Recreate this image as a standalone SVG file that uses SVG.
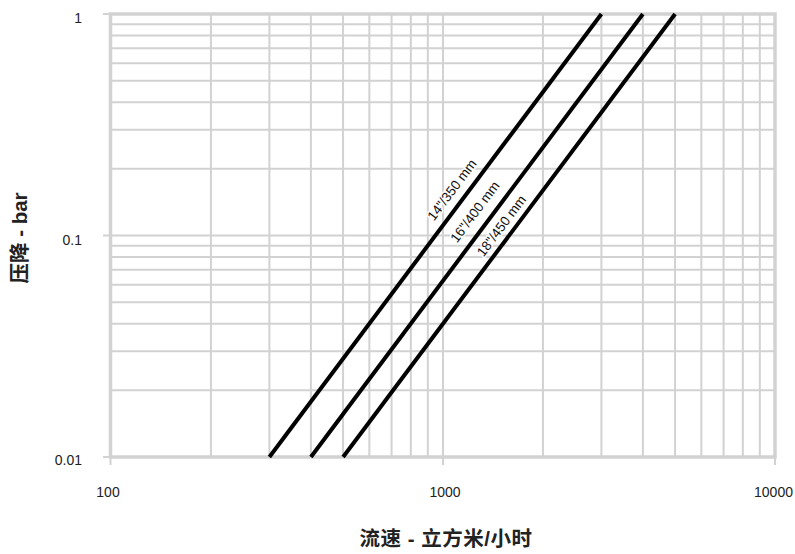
<svg xmlns="http://www.w3.org/2000/svg" width="795" height="554" viewBox="0 0 795 554">
<style>
.grid{stroke:#d2d2d2;stroke-width:2;fill:none}
.axis{stroke:#d2d2d2;stroke-width:3.5;fill:none}
.tick{stroke:#d2d2d2;stroke-width:2;fill:none}
.curve{stroke:#000;stroke-width:4;fill:none}
.tl{font-family:"Liberation Sans",Arial,sans-serif;font-size:14px;fill:#222}
.cl{font-family:"Liberation Sans",Arial,sans-serif;font-size:13.5px;fill:#111;stroke:#fff;stroke-width:3;paint-order:stroke;stroke-linejoin:round}
.title{font-family:"Liberation Sans","Noto Sans CJK SC",sans-serif;font-size:20.5px;font-weight:bold;fill:#222}
</style>
<rect width="795" height="554" fill="#fff"/>
<g id="grid">
<path class="grid" d="M210.94 14V457M269.4 14V457M310.88 14V457M343.06 14V457M369.35 14V457M391.57 14V457M410.83 14V457M427.81 14V457M443 14V457M542.94 14V457M601.4 14V457M642.88 14V457M675.06 14V457M701.35 14V457M723.57 14V457M742.83 14V457M759.81 14V457"/>
<path class="grid" d="M111 24.14H775M111 35.47H775M111 48.31H775M111 63.14H775M111 80.68H775M111 102.14H775M111 129.82H775M111 168.82H775M111 235.5H775M111 245.64H775M111 256.97H775M111 269.81H775M111 284.64H775M111 302.18H775M111 323.64H775M111 351.32H775M111 390.32H775"/>
</g>
<g id="axes">
<path class="axis" d="M110.5 14H775V457H110.5Z"/>
<path class="tick" d="M103 14H111M103 235.5H111M103 457H111M110.5 457V465M443 457V465M775 457V465"/>
</g>
<g id="tick-labels">
<text class="tl" x="82" y="23" text-anchor="end">1</text>
<text class="tl" x="82" y="245" text-anchor="end">0.1</text>
<text class="tl" x="82" y="465" text-anchor="end">0.01</text>
<text class="tl" x="108" y="497" text-anchor="middle">100</text>
<text class="tl" x="445" y="497" text-anchor="middle">1000</text>
<text class="tl" x="773.5" y="497" text-anchor="middle">10000</text>
</g>
<g id="connectors">
<line id="c14" class="curve" x1="269.4" y1="457" x2="601.4" y2="14"/>
<line id="c16" class="curve" x1="310.9" y1="457" x2="642.9" y2="14"/>
<line id="c18" class="curve" x1="343.1" y1="457" x2="675.1" y2="14"/>
</g>
<g id="label-14">
<text class="cl" transform="translate(452 190) rotate(-53.1)" x="0" y="4.5" text-anchor="middle">14"/350 mm</text>
</g>
<g id="label-16">
<text class="cl" transform="translate(475 212) rotate(-53.1)" x="0" y="4.5" text-anchor="middle">16"/400 mm</text>
</g>
<g id="label-18">
<text class="cl" transform="translate(501.5 226) rotate(-53.1)" x="0" y="4.5" text-anchor="middle">18"/450 mm</text>
</g>
<g id="titles">
<text class="title" x="446" y="546" text-anchor="middle" letter-spacing="0.5">流速 - 立方米/小时</text>
<text class="title" transform="translate(27 238) rotate(-90)" x="0" y="0" text-anchor="middle">压降 - bar</text>
</g>
</svg>
